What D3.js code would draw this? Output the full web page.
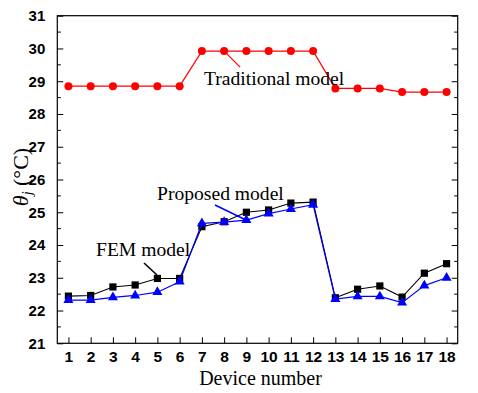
<!DOCTYPE html>
<html><head><meta charset="utf-8">
<script src="https://cdn.jsdelivr.net/npm/d3@7"></script>
<style>body{margin:0;background:#fff}svg{display:block}</style>
</head><body>
<svg id="c" width="478" height="393"></svg>
<script>
const devices = [1,2,3,4,5,6,7,8,9,10,11,12,13,14,15,16,17,18];
const traditional = [28.85,28.85,28.85,28.85,28.85,28.85,29.92,29.92,29.92,29.92,29.92,29.92,28.78,28.78,28.78,28.67,28.67,28.67];
const fem = [22.44,22.46,22.72,22.78,22.98,22.98,24.56,24.71,25.0,25.07,25.28,25.31,22.39,22.65,22.75,22.41,23.14,23.43];
const proposed = [22.32,22.32,22.40,22.46,22.56,22.88,24.66,24.70,24.76,24.96,25.10,25.23,22.35,22.43,22.43,22.24,22.76,23.0];
const yTicks = [21,22,23,24,25,26,27,28,29,30,31];

const svg = d3.select("#c");
const L=57.3,R=457.7,T=15.7,B=343.3;
const x = d3.scaleLinear().domain([0.5,18.5]).range([L,R]);
const y = d3.scaleLinear().domain([21,31]).range([B,T]);

svg.append("rect").attr("x",L).attr("y",T).attr("width",R-L).attr("height",B-T)
  .attr("fill","none").attr("stroke","#000").attr("stroke-width",1.2);

const minorY = d3.range(21.5,31,1);
const gl = svg.append("g").attr("transform",`translate(${L},0)`)
  .call(d3.axisLeft(y).tickValues(yTicks).tickSize(-6).tickPadding(10).tickFormat(d3.format("d")));
gl.select(".domain").remove();
gl.selectAll("line").attr("stroke","#000").attr("stroke-width",1);
gl.selectAll("text").attr("font-family","Liberation Sans, Arial, sans-serif").attr("font-weight","bold").attr("font-size",15).attr("fill","#000").attr("dx",-2);
svg.append("g").selectAll("line").data(minorY).join("line")
  .attr("x1",L).attr("x2",L+3.5).attr("y1",d=>y(d)).attr("y2",d=>y(d)).attr("stroke","#000");
const gr = svg.append("g").attr("transform",`translate(${R},0)`)
  .call(d3.axisRight(y).tickValues(yTicks).tickSize(-6).tickFormat(""));
gr.select(".domain").remove();
gr.selectAll("line").attr("stroke","#000");
svg.append("g").selectAll("line").data(minorY).join("line")
  .attr("x1",R).attr("x2",R-3.5).attr("y1",d=>y(d)).attr("y2",d=>y(d)).attr("stroke","#000");
const gb = svg.append("g").attr("transform",`translate(0,${B})`)
  .call(d3.axisBottom(x).tickValues(devices).tickSize(-6).tickPadding(8).tickFormat(d3.format("d")));
gb.select(".domain").remove();
gb.selectAll("line").attr("stroke","#000");
gb.selectAll("text").attr("font-family","Liberation Sans, Arial, sans-serif").attr("font-weight","bold").attr("font-size",15.5).attr("fill","#000");

const serif = "Liberation Serif, Times New Roman, serif";
svg.append("text").attr("x",(L+R)/2+3).attr("y",385).attr("text-anchor","middle")
  .attr("font-family",serif).attr("font-size",20).text("Device number");
const yl = svg.append("text").attr("transform","translate(28,177) rotate(-90)").attr("text-anchor","middle")
  .attr("font-family",serif).attr("font-size",22);
yl.append("tspan").attr("font-style","italic").text("θ");
yl.append("tspan").attr("font-style","italic").attr("font-size",14).attr("dy",4).text("j");
yl.append("tspan").attr("dy",-4).text(" (°C)");

const line = d3.line().x((d,i)=>x(devices[i])).y(d=>y(d));

svg.append("path").datum(fem).attr("d",line).attr("fill","none").attr("stroke","#000").attr("stroke-width",1.1);
svg.append("g").selectAll("rect").data(fem).join("rect")
  .attr("x",(d,i)=>x(devices[i])-3.6).attr("y",d=>y(d)-3.6).attr("width",7.2).attr("height",7.2).attr("fill","#000");
svg.append("path").datum(proposed).attr("d",line).attr("fill","none").attr("stroke","#0000ff").attr("stroke-width",1.2);
svg.append("g").selectAll("path.t").data(proposed).join("path").attr("class","t")
  .attr("transform",(d,i)=>`translate(${x(devices[i])},${y(d)})`)
  .attr("d",d3.symbol(d3.symbolTriangle,44)).attr("fill","#0000ff");
svg.append("path").datum(traditional).attr("d",line).attr("fill","none").attr("stroke","#ff0000").attr("stroke-width",1.2);
svg.append("g").selectAll("circle").data(traditional).join("circle")
  .attr("cx",(d,i)=>x(devices[i])).attr("cy",d=>y(d)).attr("r",4).attr("fill","#ff0000");

svg.append("line").attr("x1",x(8)+1).attr("y1",y(29.92)+1).attr("x2",x(8)+16).attr("y2",y(29.92)+16).attr("stroke","#ff0000").attr("stroke-width",1.2);
svg.append("text").attr("x",204).attr("y",85).attr("font-family",serif).attr("font-size",19.6).text("Traditional model");
svg.append("line").attr("x1",215).attr("y1",205).attr("x2",246).attr("y2",220).attr("stroke","#0000ff").attr("stroke-width",1.4);
svg.append("text").attr("x",157).attr("y",200).attr("font-family",serif).attr("font-size",19.6).text("Proposed model");
svg.append("line").attr("x1",144).attr("y1",263).attr("x2",157).attr("y2",275).attr("stroke","#000").attr("stroke-width",1.6);
svg.append("text").attr("x",96).attr("y",256).attr("font-family",serif).attr("font-size",19.6).text("FEM model");
</script>
</body></html>
